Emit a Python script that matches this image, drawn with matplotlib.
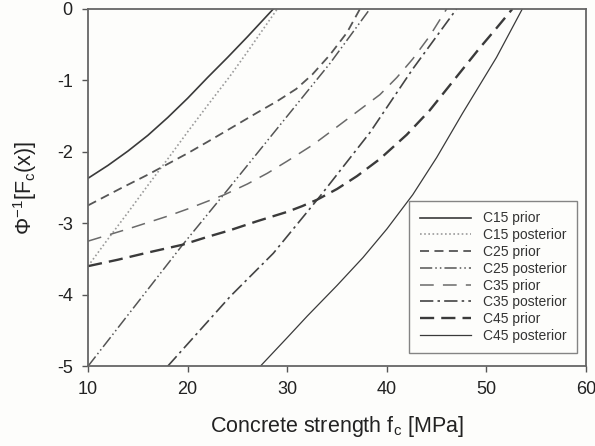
import numpy as np
import matplotlib
matplotlib.use("Agg")
import matplotlib.pyplot as plt

plt.rcParams['font.family'] = ['Liberation Sans', 'DejaVu Sans']
plt.rcParams['mathtext.fontset'] = 'custom'
plt.rcParams['mathtext.rm'] = 'Liberation Sans'
plt.rcParams['mathtext.it'] = 'Liberation Sans'
plt.rcParams['axes.unicode_minus'] = False

# curves (fc [MPa], inverse-normal of CDF)
c15_prior_x = [10, 12, 14, 16, 18, 20, 22, 24, 26, 28.6]
c15_prior_y = [-2.37, -2.19, -1.99, -1.77, -1.52, -1.25, -0.96, -0.68, -0.39, 0]
c15_post_x = [10, 12, 14, 16, 18, 20, 22, 24.2, 26, 29]
c15_post_y = [-3.6, -3.22, -2.85, -2.47, -2.1, -1.72, -1.35, -0.95, -0.6, 0]
c25_prior_x = [10, 13.3, 16, 18, 20, 22, 24.2, 27, 29, 30.9, 32.5, 34.3, 36, 37.3]
c25_prior_y = [-2.75, -2.51, -2.32, -2.17, -2.02, -1.86, -1.68, -1.45, -1.29, -1.12, -0.92, -0.64, -0.33, 0]
c25_post_x = [10, 19.5, 24.2, 29.3, 34.3, 38.3]
c25_post_y = [-5, -3.3, -2.5, -1.62, -0.76, 0]
c35_prior_x = [10, 14, 18, 20, 23.7, 26, 28, 30, 32.6, 35, 37, 39.3, 41, 42.6, 44.3, 46]
c35_prior_y = [-3.25, -3.08, -2.9, -2.8, -2.6, -2.45, -2.3, -2.13, -1.9, -1.65, -1.44, -1.2, -0.96, -0.7, -0.38, 0]
c35_post_x = [18, 24.3, 28.6, 33.3, 38.3, 42.6, 47]
c35_post_y = [-5, -4.02, -3.42, -2.62, -1.73, -0.84, 0]
c45_prior_x = [10, 13, 16, 19.5, 22, 24.2, 27, 30, 31.5, 33, 35, 37, 39.3, 42, 44.3, 47, 49.3, 51, 52.6]
c45_prior_y = [-3.6, -3.51, -3.41, -3.3, -3.19, -3.1, -2.97, -2.84, -2.76, -2.67, -2.52, -2.34, -2.1, -1.76, -1.42, -0.95, -0.55, -0.27, 0]
c45_post_x = [27.3, 30, 32, 35, 37.6, 40, 42.6, 45, 47.6, 49.3, 51, 53.6]
c45_post_y = [-5, -4.6, -4.3, -3.87, -3.48, -3.08, -2.6, -2.08, -1.46, -1.07, -0.68, 0]

x_ticks = [10, 20, 30, 40, 50, 60]
y_ticks = [0, -1, -2, -3, -4, -5]

fig = plt.figure(figsize=(5.95, 4.46), dpi=100, facecolor='#fdfdfb')
ax = fig.add_axes([0.148, 0.179, 0.837, 0.801], facecolor='#fdfdfb')

dk = '#3a3a3a'
ax.plot(c15_prior_x, c15_prior_y, color=dk, lw=1.2, label='C15 prior')
ax.plot(c15_post_x, c15_post_y, color='#9a9a9a', lw=1.2, ls=(0, (1, 1.5)), label='C15 posterior')
ax.plot(c25_prior_x, c25_prior_y, color='#555555', lw=1.3, ls=(0, (5, 3)), label='C25 prior')
ax.plot(c25_post_x, c25_post_y, color='#555555', lw=1.1, ls=(0, (8, 2, 1, 2, 1, 2)), label='C25 posterior')
ax.plot(c35_prior_x, c35_prior_y, color='#6a6a6a', lw=1.1, ls=(0, (9, 6)), label='C35 prior')
ax.plot(c35_post_x, c35_post_y, color='#444444', lw=1.2, ls=(0, (8, 2.5, 1.5, 2.5)), label='C35 posterior')
ax.plot(c45_prior_x, c45_prior_y, color='#3a3a3a', lw=1.7, ls=(0, (6, 3)), label='C45 prior')
ax.plot(c45_post_x, c45_post_y, color=dk, lw=0.9, label='C45 posterior')

ax.set_xlim(10, 60)
ax.set_ylim(-5, 0)
ax.set_xticks(x_ticks)
ax.set_yticks(y_ticks)
ax.tick_params(direction='out', length=4, width=1, colors='#555555', labelcolor='#222222', labelsize=13, pad=7)
for s in ax.spines.values():
    s.set_color('#666666')
    s.set_linewidth(1.3)

ax.set_xlabel(r'Concrete strength f$_\mathrm{c}$ [MPa]', fontsize=15.5, color='#222222', labelpad=11)
ax.set_ylabel(r'$\Phi^{-1}$[F$_\mathrm{c}$(x)]', fontsize=15.5, color='#222222', labelpad=13)

leg = ax.legend(loc='lower right', bbox_to_anchor=(0.982, 0.036), borderaxespad=0, fontsize=10,
                handlelength=3.7, labelspacing=0.2, borderpad=0.75, handletextpad=0.85,
                frameon=True, fancybox=False)
leg.get_frame().set_edgecolor('#666666')
leg.get_frame().set_linewidth(1.0)
leg.get_frame().set_facecolor('#fdfdfb')
for t in leg.get_texts():
    t.set_color('#333333')

plt.savefig("out.png", dpi=100, facecolor=fig.get_facecolor())
